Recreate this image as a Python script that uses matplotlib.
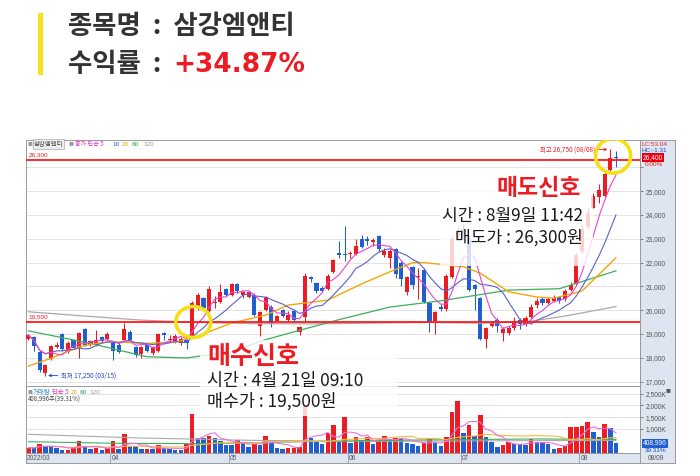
import numpy as np
import pandas as pd
import matplotlib
matplotlib.use('Agg')
import matplotlib.pyplot as plt
from matplotlib.patches import Rectangle, Ellipse

plt.rcParams['font.family'] = ['Noto Sans CJK KR', 'DejaVu Sans']

W, H = 700, 476

# 일봉 시가/고가/저가/종가 (2022/03 ~ 08/09)
opens = [18800, 18850, 18250, 17350, 17950, 18450, 19000, 18250, 18750, 18400,
         19200, 18550, 18550, 18850, 18800, 18600, 18550, 18750, 19100, 18450,
         18150, 18550, 18200, 18300, 19050, 18750, 18700, 18600, 18750, 18900,
         20150, 20500, 19950, 20300, 20350, 20900, 20650, 21100, 20650, 20550,
         20650, 19350, 20000, 20150, 19550, 20000, 19600, 19950, 19100, 19700,
         21400, 21150, 20950, 20900, 21600, 22400, 22350, 22350, 22350, 23000,
         23000, 22850, 23100, 22300, 22200, 22550, 22000, 20750, 21800, 21400,
         21700, 20300, 19550, 20150, 20050, 21400, 23100, 23400, 23000, 21050,
         20500, 18800, 19350, 19600, 19050, 19050, 19250, 19600, 19400, 19700,
         20200, 20450, 20300, 20400, 20550, 20450, 20850, 21100, 22500, 23500,
         24300, 24750, 24800, 25900, 26450]
highs = [19000, 18900, 18300, 17750, 18550, 18650, 19050, 18700, 18800, 19100,
         19250, 18750, 19150, 18900, 19100, 18650, 18600, 19450, 19150, 18500,
         18500, 18600, 18500, 19050, 19100, 18950, 19000, 18850, 18800, 20400,
         20700, 20550, 21000, 20600, 21100, 20950, 21150, 21150, 20800, 20800,
         20700, 19950, 20600, 20200, 19800, 20050, 19950, 20050, 19350, 21550,
         21450, 21200, 21000, 21500, 22150, 22900, 23550, 22500, 23000, 23150,
         23100, 23050, 23150, 22600, 22550, 22600, 22050, 21450, 21850, 21750,
         21750, 20350, 19950, 20250, 21500, 23100, 23500, 23600, 23100, 21100,
         20550, 19300, 19550, 19650, 19300, 19350, 19700, 19650, 19750, 20250,
         20500, 20550, 20550, 20650, 20600, 20900, 21200, 22400, 23600, 24300,
         24900, 25300, 25800, 26750, 26700]
lows = [18750, 18300, 17400, 17250, 17900, 18400, 18300, 18200, 18350, 18000,
        18500, 18500, 18500, 18650, 18750, 17900, 18200, 18700, 18700, 18050,
        18000, 18250, 18100, 18250, 18750, 18650, 18600, 18550, 18350, 18850,
        20000, 20000, 19900, 20100, 20300, 20600, 20600, 20700, 20500, 20500,
        19750, 18900, 19950, 19300, 19500, 19700, 19550, 19500, 18950, 19500,
        21200, 20700, 20750, 20850, 21550, 22200, 22050, 22200, 22300, 22600,
        22750, 22700, 22450, 22250, 21750, 21350, 21000, 20650, 20900, 20450,
        20300, 19100, 19000, 19950, 19950, 21350, 22950, 23000, 20800, 20000,
        18750, 18400, 19300, 19100, 18700, 18950, 19150, 19200, 19350, 19650,
        20100, 20200, 20250, 20350, 20300, 20400, 20800, 21050, 22400, 23400,
        24300, 24500, 24750, 25850, 26000]
closes = [18950, 18500, 17500, 17700, 18500, 18550, 18350, 18600, 18400, 19050,
          18550, 18700, 18750, 18700, 19000, 18300, 18250, 19200, 18750, 18100,
          18450, 18300, 18450, 19000, 18950, 18800, 18900, 18800, 18600, 20300,
          20650, 20100, 20900, 20350, 20750, 20650, 21100, 20800, 20750, 20750,
          19800, 19900, 20550, 19400, 19750, 19750, 19800, 19600, 19300, 21450,
          21300, 20800, 20800, 21450, 22100, 22300, 22300, 22400, 22700, 22650,
          22900, 22950, 22550, 22500, 22500, 21500, 21300, 21400, 21050, 21450,
          20350, 19500, 19900, 20050, 21450, 23000, 23300, 23100, 20850, 20900,
          18800, 19250, 19500, 19350, 19200, 19250, 19550, 19400, 19650, 20150,
          20400, 20300, 20450, 20500, 20400, 20800, 21050, 22300, 23400, 24100,
          24800, 25050, 25700, 26400, 26400]
# 거래량 (천주)
volumes = [212, 205, 367, 297, 290, 183, 113, 120, 254, 493,
           282, 141, 183, 113, 183, 493, 141, 775, 282, 270,
           141, 150, 141, 324, 183, 141, 130, 125, 367, 1633,
           634, 620, 704, 634, 493, 324, 310, 535, 395, 254,
           367, 324, 704, 465, 183, 141, 183, 212, 254, 2013,
           634, 465, 353, 817, 1169, 465, 1492, 395, 648, 535,
           676, 367, 507, 704, 564, 634, 606, 395, 367, 297,
           423, 578, 465, 282, 648, 1731, 2182, 817, 1169, 704,
           1591, 676, 465, 254, 324, 465, 367, 353, 340, 564,
           465, 423, 353, 141, 183, 297, 1098, 1100, 1110, 1309,
           859, 676, 1211, 1028, 409]

# 이동평균선
ma20_idx = [0, 4, 9, 12, 15, 21, 26, 30, 36, 42, 46, 53, 59, 64, 68, 70, 77, 80, 85, 90, 93, 98, 104]
ma20_val = [17650, 17970, 18460, 18600, 18670, 18600, 18650, 18910, 19460, 19790, 20210, 20420,
            21100, 21610, 21990, 22000, 21820, 21550, 20770, 20550, 20500, 20800, 22200]
ma60_idx = [0, 11, 21, 28, 36, 42, 48, 55, 64, 73, 85, 94, 104]
ma60_val = [19130, 18600, 18040, 17990, 18250, 18760, 19150, 19600, 20130, 20390, 20840, 20900, 21650]
ma120_idx = [0, 10, 20, 30, 40, 50, 60, 70, 80, 88, 95, 104]
ma120_val = [19930, 19750, 19580, 19480, 19430, 19420, 19450, 19480, 19450, 19500, 19750, 20150]
vma60_idx = [0, 15, 30, 50, 70, 90, 104]
vma60_val = [465, 400, 380, 470, 540, 580, 560]
vma120_idx = [0, 20, 40, 60, 80, 104]
vma120_val = [775, 620, 520, 480, 500, 520]

month_labels = ['2022/03', '04', '05', '06', '07', '08']
month_starts = [0, 15, 36, 57, 77, 98]

buy_idx, buy_price = 29, 19500
sell_idx, sell_price = 104, 26300
high_idx, high_price = 103, 26750
low_idx, low_price = 3, 17250
last_price = 26400
last_volume = 408996

RED = '#ec1c24'
BLUE = '#1f5fd0'
GRID = '#e4e4e4'
AXBG = '#dce5f0'


def box(x0, y0, x1, y1):
    return [x0 / W, 1 - y1 / H, (x1 - x0) / W, (y1 - y0) / H]


def fx(x):
    return x / W


def fy(y):
    return 1 - y / H


fig = plt.figure(figsize=(W / 100, H / 100), dpi=100)
fig.patch.set_facecolor('white')

# 제목
fig.add_artist(Rectangle((fx(38), fy(75)), 5 / W, 62 / H, transform=fig.transFigure,
                         color='#f8e11a', lw=0))
fig.text(fx(68), fy(26), '종목명  :  삼강엠앤티', fontsize=19, fontweight='bold', color='#333333', va='center')
fig.text(fx(68), fy(65), '수익률  : ', fontsize=19, fontweight='bold', color='#333333', va='center')
fig.text(fx(173), fy(65), '+34.87%', fontsize=19, fontweight='bold', color=RED, va='center',
         family=['DejaVu Sans'])

# 오른쪽 축 배경
bg = fig.add_axes(box(640, 140, 675, 463))
bg.set_facecolor(AXBG)
bg.set_xticks([])
bg.set_yticks([])
for s in bg.spines.values():
    s.set_color('#9a9a9a')
    s.set_linewidth(0.7)

x = np.arange(len(closes))
o = np.array(opens)
c = np.array(closes)
up = c >= o
cols = np.where(up, RED, BLUE)
xlim = (-0.41, 108.26)

# 가격 차트
ax = fig.add_axes(box(26, 140, 640, 386))
ax.set_xlim(*xlim)
ax.set_ylim(16811, 27148)
ax.vlines(x, lows, highs, colors=cols, lw=0.75, zorder=2)
body = np.maximum(np.abs(c - o), 40)
ax.bar(x, body, bottom=np.minimum(o, c), width=0.72, color=cols, lw=0, zorder=3)

ma5 = pd.Series(closes).rolling(5, min_periods=1).mean()
ma10 = pd.Series(closes).rolling(10, min_periods=1).mean()
ax.plot(ma120_idx, ma120_val, color='#a9a9a9', lw=0.9, zorder=4)
ax.plot(ma60_idx, ma60_val, color='#3fae5a', lw=0.9, zorder=4)
ax.plot(ma20_idx, ma20_val, color='#f2a60c', lw=1.0, zorder=4)
ax.plot(x, ma10, color='#5a62c8', lw=0.8, zorder=4)
ax.plot(x, ma5, color='#e445d2', lw=0.8, zorder=4)

ax.axhline(buy_price, color='#ff1a1a', lw=1.3, zorder=5)
ax.axhline(sell_price, color='#ff1a1a', lw=1.3, zorder=5)
ax.text(0.0, buy_price + 120, f'{buy_price:,}', color=RED, fontsize=4.6, family=['Liberation Sans'],
        va='bottom', zorder=6)
ax.text(0.0, sell_price + 120, f'{sell_price:,}', color=RED, fontsize=4.6, family=['Liberation Sans'],
        va='bottom', zorder=6)

ax.annotate(f'최고 {high_price:,} (08/08)', xy=(high_idx - 0.5, high_price), xytext=(-9, 0),
            textcoords='offset points', ha='right', va='center', fontsize=4.6, color=RED,
            arrowprops=dict(arrowstyle='->', color=RED, lw=0.6, shrinkA=0, shrinkB=0), zorder=6)
ax.annotate(f'최저 {low_price:,} (03/15)', xy=(low_idx + 0.5, low_price), xytext=(9, 0),
            textcoords='offset points', ha='left', va='center', fontsize=4.6, color='#2046c8',
            arrowprops=dict(arrowstyle='->', color='#2046c8', lw=0.6, shrinkA=0, shrinkB=0), zorder=6)

ax.add_patch(Ellipse((buy_idx + 0.2, buy_price), 6.2, 1300, fill=False, ec='#f7df18', lw=2.6, zorder=7))
ax.add_patch(Ellipse((high_idx + 0.5, last_price + 80), 6.2, 1450, fill=False, ec='#f7df18', lw=2.6, zorder=7))

ax.set_yticks(range(17000, 27000, 1000))
ax.set_yticklabels([f'{v:,}' if v < 26000 else '' for v in range(17000, 27000, 1000)])
ax.yaxis.tick_right()
ax.tick_params(axis='y', length=2.5, width=0.5, pad=1.5, labelsize=4.8, colors='#555555')
for lab in ax.get_yticklabels():
    lab.set_family(['Liberation Sans'])
ax.set_xticks([])
ax.grid(axis='y', color=GRID, lw=0.7)
ax.set_axisbelow(True)
for s in ax.spines.values():
    s.set_color('#9a9a9a')
    s.set_linewidth(0.7)

ax.text(1.005, last_price, f'{last_price:,}', transform=ax.get_yaxis_transform(), color='white',
        fontsize=4.8, family=['Liberation Sans'], va='center', ha='left',
        bbox=dict(boxstyle='square,pad=0.15', fc='#e60012', ec='none'))
fig.text(fx(645), fy(165), '0.00%', color=RED, fontsize=4.6, family=['Liberation Sans'], va='center')
fig.text(fx(642), fy(144), 'LC:53.04', color=RED, fontsize=4.6, family=['Liberation Sans'], va='center')
fig.text(fx(642), fy(151), 'HC:-1.31', color='#2046c8', fontsize=4.6, family=['Liberation Sans'], va='center')

# 범례 (가격)
fig.text(fx(28), fy(144), '■', color='#999999', fontsize=3.5, va='center')
fig.text(fx(34), fy(144), '삼강엠앤티', color='#444444', fontsize=4.6, va='center',
         bbox=dict(boxstyle='square,pad=0.1', fc='#eeeeee', ec='#999999', lw=0.4))
fig.text(fx(69), fy(144), '■', color='#999999', fontsize=3.5, va='center')
fig.text(fx(75), fy(144), '종가 단순 5', color='#e030c8', fontsize=4.4, va='center')
fig.text(fx(112), fy(144), '10', color='#3a48d0', fontsize=4.6, va='center', family=['Liberation Sans'])
fig.text(fx(122), fy(144), '20', color='#e8b000', fontsize=4.6, va='center', family=['Liberation Sans'])
fig.text(fx(132), fy(144), '60', color='#2a9a40', fontsize=4.6, va='center', family=['Liberation Sans'])
fig.text(fx(143), fy(144), '120', color='#999999', fontsize=4.6, va='center', family=['Liberation Sans'])

# 거래량 차트
av = fig.add_axes(box(26, 386, 640, 453))
av.set_xlim(*xlim)
av.set_ylim(-12.7, 2817)
v = np.array(volumes)
vcols = [RED] + [RED if v[i] > v[i - 1] else BLUE for i in range(1, len(v))]
av.bar(x, volumes, width=0.8, color=vcols, lw=0, zorder=2)
vma5 = pd.Series(volumes).rolling(5, min_periods=1).mean()
vma20 = pd.Series(volumes).rolling(20, min_periods=1).mean()
av.plot(vma120_idx, vma120_val, color='#aaaaaa', lw=0.8, zorder=3)
av.plot(vma60_idx, vma60_val, color='#3cb060', lw=0.8, zorder=3)
av.plot(x, vma20, color='#f5b940', lw=0.8, zorder=3)
av.plot(x, vma5, color='#f070d8', lw=0.8, zorder=3)
av.set_yticks([1000, 1500, 2000, 2500])
av.set_yticklabels(['1,000K', '1,500K', '2,000K', '2,500K'])
av.yaxis.tick_right()
av.tick_params(axis='y', length=2.5, width=0.5, pad=1.5, labelsize=4.8, colors='#555555')
for lab in av.get_yticklabels():
    lab.set_family(['Liberation Sans'])
av.set_xticks([])
av.grid(axis='y', color=GRID, lw=0.7)
av.set_axisbelow(True)
for s in av.spines.values():
    s.set_color('#9a9a9a')
    s.set_linewidth(0.7)
av.text(1.005, last_volume / 1000, f'{last_volume:,}', transform=av.get_yaxis_transform(), color='white',
        fontsize=4.8, family=['Liberation Sans'], va='center', ha='left',
        bbox=dict(boxstyle='square,pad=0.15', fc='#1f5fd0', ec='none'))
fig.text(fx(645), fy(450), '39.31%', color='#2046c8', fontsize=4.6, family=['Liberation Sans'], va='center')
fig.text(fx(666), fy(391), '■', color='#555555', fontsize=3.5, va='center')

fig.text(fx(28), fy(392), '■', color='#999999', fontsize=3.5, va='center')
fig.text(fx(33), fy(392), '거래량', color='#2a8ac8', fontsize=4.6, va='center')
fig.text(fx(52), fy(392), '단순 5', color='#e030c8', fontsize=4.6, va='center')
fig.text(fx(71), fy(392), '20', color='#e8b000', fontsize=4.6, va='center', family=['Liberation Sans'])
fig.text(fx(80), fy(392), '60', color='#2a9a40', fontsize=4.6, va='center', family=['Liberation Sans'])
fig.text(fx(89), fy(392), '120', color='#999999', fontsize=4.6, va='center', family=['Liberation Sans'])
fig.text(fx(28), fy(400), f'{last_volume:,}주(39.31%)', color='#444444', fontsize=4.4, va='center')

# 날짜 축
ad = fig.add_axes(box(26, 453, 640, 463))
ad.set_facecolor(AXBG)
ad.set_xlim(*xlim)
ad.set_ylim(0, 1)
ad.set_xticks([])
ad.set_yticks([])
for s in ad.spines.values():
    s.set_color('#9a9a9a')
    s.set_linewidth(0.7)
for i, (m, lab) in enumerate(zip(month_starts, month_labels)):
    if i > 0:
        ad.axvline(m - 0.5, color='#9a9a9a', lw=0.6)
    ad.text(m - 0.3, 0.45, lab, fontsize=4.8, family=['Liberation Sans'], color='#555555', va='center')
fig.text(fx(648), fy(458), '08/09', fontsize=4.8, family=['Liberation Sans'], color='#555555', va='center')

# 매수/매도 신호 표시
fig.add_artist(Rectangle((fx(200), fy(416)), 198 / W, 76 / H, transform=fig.transFigure,
                         fc='white', ec='none', alpha=0.8, zorder=5))
fig.add_artist(Rectangle((fx(440), fy(266)), 153 / W, 91 / H, transform=fig.transFigure,
                         fc='white', ec='none', alpha=0.8, zorder=5))
fig.text(fx(207), fy(357), '매수신호', fontsize=18, fontweight='bold', color=RED, va='center', zorder=6)
fig.text(fx(207), fy(381), '시간 : 4월 21일 09:10', fontsize=12.5, color='#1a1a1a',
         va='center', zorder=6)
fig.text(fx(207), fy(401), f'매수가 : {buy_price:,}원', fontsize=12.5, color='#1a1a1a',
         va='center', zorder=6)
fig.text(fx(581), fy(189), '매도신호', fontsize=16.5, fontweight='bold', color=RED, va='center',
         ha='right', zorder=6)
fig.text(fx(583), fy(216), '시간 : 8월9일 11:42', fontsize=12.3, color='#1a1a1a',
         va='center', ha='right', zorder=6)
fig.text(fx(583), fy(238), f'매도가 : {sell_price:,}원', fontsize=12.3, color='#1a1a1a',
         va='center', ha='right', zorder=6)

fig.savefig('out.png', dpi=100)
